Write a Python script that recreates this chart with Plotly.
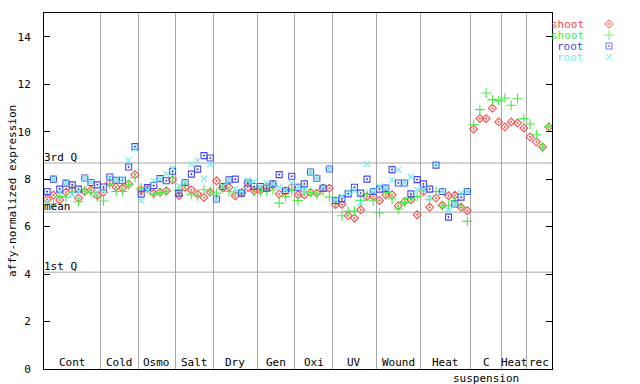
import plotly.graph_objects as go

# ---- data -------------------------------------------------------------
group_labels = ["Cont", "Cold", "Osmo", "Salt", "Dry", "Gen", "Oxi", "UV",
                "Wound", "Heat", "C", "Heat", "rec"]
group_sizes = [9, 6, 6, 6, 7, 6, 6, 7, 7, 8, 5, 4, 4]

shoot_red = [7.15, 7.33, 7.12, 7.45, 7.55, 7.20, 7.48, 7.54, 7.31,
             7.45, 7.85, 7.67, 7.62, 7.79, 8.19,
             7.55, 7.60, 7.41, 7.45, 7.51, 7.97,
             7.31, 7.65, 7.55, 7.37, 7.23, 7.45,
             7.93, 7.62, 7.65, 7.30, 7.44, 7.65, 7.51,
             7.53, 7.69, 7.76, 7.37, 7.48, 7.66,
             7.34, 7.34, 7.44, 7.41, 7.62, 7.62,
             6.93, 6.93, 6.46, 6.36, 6.71, 7.27, 7.27,
             7.10, 7.34, 7.34, 6.88, 7.06, 7.13, 6.50,
             7.48, 6.82, 7.20, 6.90, 7.30, 7.32, 6.82, 6.67,
             10.11, 10.55, 10.55, 10.99, 10.41,
             10.20, 10.41, 10.37, 10.15,
             9.78, 9.57, 9.35, 10.20]

shoot_green = [7.31, 6.96, 7.27, 7.24, 7.48, 7.05, 7.50, 7.45, 7.24,
               7.08, 7.80, 7.48, 7.48, 7.76, 8.07,
               7.62, 7.60, 7.37, 7.43, 7.48, 8.07,
               7.51, 7.75, 7.37, 7.30, 7.55, 7.48,
               7.41, 7.65, 7.48, 7.41, 7.40, 7.84, 7.48,
               7.48, 7.51, 7.55, 6.99, 7.27, 7.52,
               7.10, 7.48, 7.45, 7.38, 7.48, 7.24,
               6.99, 6.46, 6.64, 6.64, 7.10, 7.34, 7.09,
               6.57, 7.44, 7.16, 6.74, 7.02, 7.20, 7.27,
               7.55, 7.15, 7.48, 6.87, 6.89, 7.09, 6.82, 6.22,
               10.30, 10.93, 11.63, 11.35, 11.31,
               11.42, 11.11, 11.39, 10.55,
               10.32, 9.87, 9.35, 10.20]

root_blue = [7.48, 8.00, 7.58, 7.83, 7.76, 7.58, 8.05, 7.86, 7.76,
             7.67, 8.09, 7.95, 7.95, 8.51, 9.37,
             7.37, 7.65, 7.73, 8.02, 7.93, 8.33,
             7.41, 7.86, 8.21, 8.42, 8.99, 8.89,
             7.16, 7.69, 7.97, 8.00, 7.41, 7.84, 7.69,
             7.69, 7.62, 7.80, 8.19, 7.52, 8.12,
             7.66, 7.80, 8.30, 8.04, 7.62, 8.43,
             7.10, 7.17, 7.38, 7.66, 7.41, 8.00, 7.48,
             7.58, 7.62, 8.40, 7.84, 7.84, 7.38, 7.98,
             7.80, 7.58, 8.59, 7.48, 6.40, 6.95, 7.24, 7.48] + [None] * 13

root_cyan = [7.03, 8.00, 7.45, 7.83, 7.37, 7.48, 8.05, 7.86, 7.44,
             7.50, 8.05, 7.95, 8.01, 8.79, 9.30,
             7.09, 7.55, 7.93, 8.00, 8.22, 8.47,
             7.73, 7.86, 8.63, 8.78, 8.02, 8.63,
             7.16, 7.69, 7.95, 7.60, 7.48, 7.96, 7.90,
             7.66, 7.84, 7.80, 7.66, 7.55, 7.84,
             7.66, 7.50, 8.28, 8.04, 7.66, 8.43,
             7.12, 7.27, 7.45, 7.52, 7.02, 8.64, 7.50,
             7.69, 7.62, 7.96, 8.40, 7.84, 8.09, 7.55,
             7.58, 7.20, 8.64, 7.50, 6.71, 6.95, 7.41, 7.48] + [None] * 13

stat_names = ["3rd Q", "mean", "1st Q"]
stat_values = [8.68, 6.61, 4.08]

series_names = ["shoot", "shoot", "root", "root"]
series_colors = ["#ff4a4a", "#44ee44", "#4646ee", "#66f0f0"]
series_symbols = ["diamond-open-dot", "cross-thin-open", "square-open-dot", "x-thin-open"]
series_sizes = [6, 7, 6, 6]

# ---- figure -----------------------------------------------------------
FONT = "DejaVu Sans Mono"
n = len(shoot_red)
xs = list(range(n))
dom_end = 508 / 596

fig = go.Figure()
for vals, name, col, sym, sz in zip([shoot_red, shoot_green, root_blue, root_cyan],
                                    series_names, series_colors, series_symbols, series_sizes):
    fig.add_trace(go.Scatter(x=xs, y=vals, mode="markers", name=name, showlegend=False,
                             marker=dict(symbol=sym, size=sz, color=col,
                                         line=dict(color=col, width=1.1))))

# group boundaries
bounds = []
acc = 0
centers = []
for s in group_sizes:
    centers.append(acc + (s - 1) / 2)
    acc += s
    bounds.append(acc - 0.5)
bounds = bounds[:-1]

annotations = []
for lab, c in zip(group_labels, centers):
    annotations.append(dict(x=c, y=0, xref="x", yref="y", text=lab, showarrow=False,
                            xanchor="center", yanchor="bottom", yshift=-2,
                            font=dict(family=FONT, size=11, color="black")))
annotations.append(dict(x=centers[group_labels.index("C")], y=0, xref="x", yref="y",
                        text="suspension", showarrow=False, xanchor="center",
                        yanchor="top", yshift=-1,
                        font=dict(family=FONT, size=11, color="black")))

shapes = []
for nm, v in zip(stat_names, stat_values):
    shapes.append(dict(type="line", xref="x domain", yref="y", x0=0, x1=1, y0=v, y1=v,
                       line=dict(color="#a8a8a8", width=1), layer="below"))
    annotations.append(dict(x=0, y=v, xref="x domain", yref="y", text=nm, showarrow=False,
                            xanchor="left", yanchor="bottom", xshift=-2, yshift=-3,
                            font=dict(family=FONT, size=11, color="black")))

annotations.append(dict(x=0, y=0.5, xref="paper", yref="paper",
                        text="affy-normalized expression", textangle=-90,
                        showarrow=False, xanchor="center", yanchor="middle", xshift=-32,
                        font=dict(family=FONT, size=11, color="black")))

# legend (text on the left, symbol on the right, as in the original)
leg_y = [24, 35, 46, 57]
for nm, col, yy in zip(series_names, series_colors, leg_y):
    annotations.append(dict(x=586, y=yy, xref="x2", yref="y2", text=nm, showarrow=False,
                            xanchor="right", yanchor="middle",
                            font=dict(family=FONT, size=11, color=col)))
fig.add_trace(go.Scatter(x=[609] * 4, y=leg_y, xaxis="x2", yaxis="y2", mode="markers",
                         showlegend=False, hoverinfo="skip",
                         marker=dict(symbol=series_symbols, size=series_sizes,
                                     color=series_colors,
                                     line=dict(color=series_colors, width=1.1))))

fig.update_layout(
    width=640, height=384,
    margin=dict(l=44, r=0, t=13, b=15),
    paper_bgcolor="white", plot_bgcolor="white",
    font=dict(family=FONT, size=11, color="black"),
    showlegend=False,
    xaxis=dict(domain=[0, dom_end], range=[-0.5, n - 0.5], showticklabels=False,
               tickvals=bounds, ticks="", showgrid=True, gridcolor="#a8a8a8", gridwidth=1,
               showline=True, linecolor="black", linewidth=1, mirror=True, zeroline=False),
    yaxis=dict(range=[0, 15], tickvals=list(range(0, 15, 2)), ticks="inside", ticklen=6,
               tickcolor="black", showgrid=False, zeroline=False, showline=True,
               linecolor="black", linewidth=1, mirror="allticks", ticklabelstandoff=10,
               tickfont=dict(family=FONT, size=11, color="black")),
    xaxis2=dict(domain=[0.86, 1.0], range=[44 + 0.86 * 596, 640], anchor="y2", visible=False),
    yaxis2=dict(domain=[0, 1], range=[369, 13], anchor="x2", visible=False),
    shapes=shapes,
    annotations=annotations,
)

fig.write_html("out.html", config={"displayModeBar": False},
               post_script="document.body.style.margin='0';document.body.style.overflow='hidden';")
